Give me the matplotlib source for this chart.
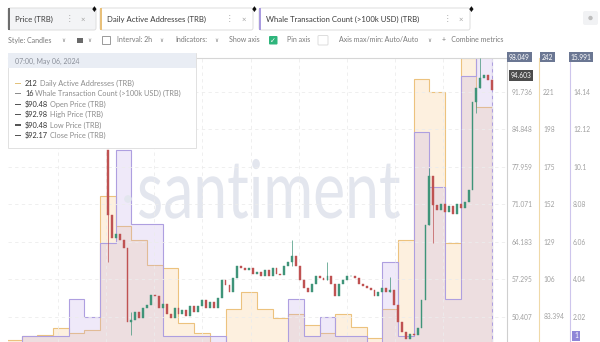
import matplotlib.pyplot as plt
import numpy as np
from matplotlib.patches import FancyBboxPatch, Rectangle, PathPatch, Circle
from matplotlib.textpath import TextPath
from matplotlib.font_manager import FontProperties
from matplotlib.transforms import Affine2D, IdentityTransform

plt.rcParams['font.family'] = ['Lato', 'DejaVu Sans']

# daily metrics (one value per day)
daily_active = [69, 71, 72, 76, 73, 75, 157, 139, 130, 115, 113, 79, 73, 66, 88, 98,
                88, 82, 85, 78, 73, 85, 77, 70, 88, 130, 229, 221, 128, 242, 212]
whale_count = [0, 1, 1, 1, 3, 2, 6, 11, 7, 7, 1, 1, 1, 1, 0, 0,
               0, 0, 3, 1, 2, 1, 1, 0, 5, 1, 12, 9, 3, 15, 16]

# TRB price, 6h candles starting mid-day 6
first_open = 81.08
closes = [69.14, 64.91, 65.65, 64.55, 63.08, 49.48, 49.85, 51.32, 50.22, 52.06,
          52.61, 54.44, 54.26, 52.06, 52.79, 50.95, 50.22, 52.06, 50.95, 51.69,
          50.59, 52.42, 51.32, 52.42, 53.53, 52.06, 53.16, 52.06, 53.89, 57.20,
          56.28, 54.99, 57.57, 59.77, 59.40, 59.04, 59.40, 58.30, 58.67, 57.93,
          59.04, 57.93, 59.40, 58.30, 58.12, 59.77, 60.51, 61.61, 59.77, 57.20,
          55.73, 54.99, 56.46, 57.93, 57.57, 57.20, 57.93, 56.46, 54.26, 56.46,
          57.20, 57.93, 57.93, 57.57, 56.46, 56.10, 55.73, 55.36, 54.26, 54.99,
          55.73, 54.99, 55.36, 52.61, 49.48, 47.65, 46.36, 47.28, 47.10, 48.38,
          53.53, 67.30, 76.30, 70.97, 70.06, 71.16, 69.69, 70.79, 69.32, 71.16,
          70.42, 71.53, 73.73, 89.89, 92.47, 94.30, 94.85, 93.93, 92.17]
# notable wicks: candle index -> (low, high)
wicks = {0: (60.51, 81.08), 6: (47.10, 51.32), 47: (59.77, 64.55), 56: (57.20, 60.51),
         72: (54.99, 57.75), 82: (67.30, 77.77), 83: (63.99, 76.30), 94: (87.87, 92.47),
         95: (92.47, 97.90)}

price_ticks = [91.736, 84.848, 77.959, 71.071, 64.183, 57.295, 50.407]
daa_ticks = [221, 198, 175, 152, 129, 106, 83.394]
whale_ticks = [14.14, 12.12, 10.1, 8.08, 6.06, 4.04, 2.02]

W, H = 600, 342
fig = plt.figure(figsize=(W / 100, H / 100), dpi=100)
fig.patch.set_facecolor('white')

L, R, T, B = 8, 507, 57.6, 342
ax = fig.add_axes([L / W, 1 - B / H, (R - L) / W, (B - T) / H])
ax_daa = ax.twinx()
ax_wh = ax.twinx()
ax.set_zorder(3)
ax.patch.set_visible(False)

day_edges = np.arange(len(daily_active) + 1)
ax_daa.stairs(daily_active, day_edges, baseline=0, fill=True, color='#f7c27a', alpha=0.24, lw=0)
ax_wh.stairs(whale_count, day_edges, baseline=0, fill=True, color='#bea6e6', alpha=0.24, lw=0)
ax_daa.stairs(daily_active, day_edges, baseline=0, color='#ecc27e', lw=0.8)
ax_wh.stairs(whale_count, day_edges, baseline=0, color='#ae9fe0', lw=0.8)

ax.set_ylim(45.81, 98.049)
ax_daa.set_ylim(67.58, 242)
ax_wh.set_ylim(0.67, 15.991)
for a in (ax, ax_daa, ax_wh):
    a.set_xlim(0.128, 31.95)
    for s in a.spines.values():
        s.set_visible(False)
    a.tick_params(axis='x', length=0, labelbottom=False)

# santiment watermark
tp = TextPath((0, 0), 'santiment', size=100, prop=FontProperties(family='Lato'))
ext = tp.get_extents()
sx = 261 / ext.width
sy = 41 / 50.6
wm = PathPatch(tp, fc='#e3e6ee', ec='none', zorder=6, clip_on=False,
               transform=Affine2D().translate(-ext.x0, 0).scale(sx, sy).translate(139, H - 218) + IdentityTransform())
ax_wh.add_artist(wm)
ax_wh.add_artist(Circle((128, H - 199), 3.8, fc='#e3e6ee', ec='none', zorder=6,
                        transform=IdentityTransform(), clip_on=False))

# candles
t = 6.5 + 0.25 * np.arange(len(closes))
c = np.array(closes)
o = np.r_[first_open, c[:-1]]
up = c >= o
col = np.where(up, '#3f9479', '#bf5252')
ax.bar(t, c - o, bottom=o, width=0.12, color=col, edgecolor=col, lw=0.3, zorder=4)
for i, (lo, hi) in wicks.items():
    ax.vlines(t[i], lo, hi, color=col[i], lw=0.5, zorder=4)

# grid and axes
ax.set_yticks(price_ticks)
ax.set_yticklabels(['91.736', '84.848', '77.959', '71.071', '64.183', '57.295', '50.407'])
ax.set_xticks([3.3, 6.38, 9.45, 12.5, 15.6, 18.7, 21.75, 24.8, 27.9, 31.0])
ax.grid(True, ls=(0, (4, 4)), color='#ececec', lw=0.6)
ax.set_axisbelow(True)
ax.yaxis.tick_right()
ax.tick_params(axis='y', length=0, pad=3.6, labelsize=4.8, labelcolor='#a0a0a0')
ax.spines['right'].set_visible(True)
ax.spines['right'].set_color('#cfcfcf')
ax.spines['right'].set_linewidth(0.8)
ax.spines['top'].set_visible(True)
ax.spines['top'].set_color('#d6d6d6')
ax.spines['top'].set_linewidth(0.8)

ax_daa.set_yticks(daa_ticks)
ax_daa.set_yticklabels(['221', '198', '175', '152', '129', '106', '83.394'])
ax_daa.spines['right'].set_visible(True)
ax_daa.spines['right'].set_position(('axes', (539 - L) / (R - L)))
ax_daa.spines['right'].set_color('#efd9a8')
ax_daa.spines['right'].set_linewidth(0.8)
ax_daa.tick_params(axis='y', length=0, pad=3.0, labelsize=4.8, labelcolor='#a0a0a0')

ax_wh.set_yticks(whale_ticks)
ax_wh.set_yticklabels(['14.14', '12.12', '10.1', '8.08', '6.06', '4.04', '2.02'])
ax_wh.spines['right'].set_visible(True)
ax_wh.spines['right'].set_position(('axes', (570 - L) / (R - L)))
ax_wh.spines['right'].set_color('#cdc5ec')
ax_wh.spines['right'].set_linewidth(0.8)
ax_wh.tick_params(axis='y', length=0, pad=2.2, labelsize=4.8, labelcolor='#a0a0a0')


# helpers in pixel coordinates (origin top-left)
def box(x, y, w, h, fc, ec='none', lw=0.7, r=0, z=10):
    style = f'round,pad=0,rounding_size={r}' if r else 'square,pad=0'
    fig.add_artist(FancyBboxPatch((x, H - y - h), w, h, boxstyle=style, fc=fc, ec=ec, lw=lw,
                                  transform=IdentityTransform(), zorder=z))


def label(x, y, s, size=5.0, color='#7a7a7a', z=11, **kw):
    return fig.text(x / W, 1 - y / H, s, fontsize=size, color=color, va='center', zorder=z, **kw)


def tag(x, y, s, fc):
    label(x, y, s, size=4.8, color='white', ha='center',
          bbox=dict(boxstyle='square,pad=0.25', fc=fc, ec='none'))


# value tags on the axes
tag(519.5, 57, '98.049', '#6b7793')
tag(521, 75.5, '94.603', '#4c4c4c')
tag(547.5, 57, '242', '#6b7793')
tag(581, 57, '15.991', '#6b7793')
tag(576, 336, '1', '#8f86d8')

# metric tabs
tabs = [(8, 88, 'Price (TRB)', '#6d6d6d', '#f3f4f6', 69, 83, 94),
        (100, 153, 'Daily Active Addresses (TRB)', '#e8c07a', 'white', 229, 244, 254),
        (259, 211, 'Whale Transaction Count (>100k USD) (TRB)', '#a99be0', 'white', 447, 461, 471)]
for x, w, name, bar, fc, kx, cx, dx in tabs:
    box(x, 8, w, 22, fc=fc, ec='#dedede', r=2)
    box(x, 8, 2.2, 22, fc=bar, z=10.5)
    label(x + 7, 19, name, size=5.6, color='#3c3c3c')
    label(kx, 19, '⋮', size=5.5, color='#a0a0a0', ha='center')
    label(cx, 19, '×', size=5.5, color='#a0a0a0', ha='center')
    label(dx, 9.5, '♦', size=5.5, color='#111111', ha='center')
box(583, 11, 15, 14, fc='#f1f2f4', r=2)
fig.add_artist(Circle((590.5, H - 18), 2.2, fc='#bdbdbd', ec='none', transform=IdentityTransform(), zorder=11))

# toolbar row
label(8, 40, 'Style: Candles')
label(61, 40, '∨', size=4)
box(77, 37.5, 5.5, 5.5, fc='#6a6a6a')
label(87, 40, '∨', size=4)
box(102, 36, 8, 8, fc='white', ec='#8a8a8a', lw=0.6)
label(117, 40, 'Interval: 2h')
label(159, 40, '∨', size=4)
label(175, 40, 'Indicators:')
label(214, 40, '∨', size=4)
label(229, 40, 'Show axis')
box(269, 36, 8.5, 8.5, fc='#2fb57c', r=1)
label(273.2, 40.2, '✓', size=5, color='white', ha='center', z=12)
label(287, 40, 'Pin axis')
box(318, 35.5, 10, 9.5, fc='white', ec='#dddddd', r=1)
label(339, 40, 'Axis max/min: Auto/Auto')
label(427, 40, '∨', size=4)
label(442, 40, '+   Combine metrics')

# hover tooltip
box(8, 53, 188, 95, fc='white', ec='#e1e1e1', lw=0.7, z=12)
box(8.4, 53.4, 187.2, 15, fc='#e9edf4', z=12.2)
label(15, 61, '07:00, May 06, 2024', size=5.0, color='#8a8f99', z=13)
rows = [('212', 'Daily Active Addresses (TRB)', '#e3c27c'),
        ('16', 'Whale Transaction Count (>100k USD) (TRB)', '#8d8d8d'),
        ('$90.48', 'Open Price (TRB)', '#555555'),
        ('$92.98', 'High Price (TRB)', '#555555'),
        ('$90.48', 'Low Price (TRB)', '#555555'),
        ('$92.17', 'Close Price (TRB)', '#555555')]
renderer = fig.canvas.get_renderer()
for k, (val, name, dash) in enumerate(rows):
    y = 83.5 + 10.4 * k
    fig.add_artist(Rectangle((15, H - y - 0.5), 5.5, 1.2, fc=dash, ec='none',
                             transform=IdentityTransform(), zorder=13))
    tv = label(25, y, val, size=5.3, color='#333333', z=13)
    x1 = tv.get_window_extent(renderer).x1
    label(x1 + 1.8, y, name, size=5.3, color='#8c8c8c', z=13)

fig.savefig('out.png', dpi=100)
